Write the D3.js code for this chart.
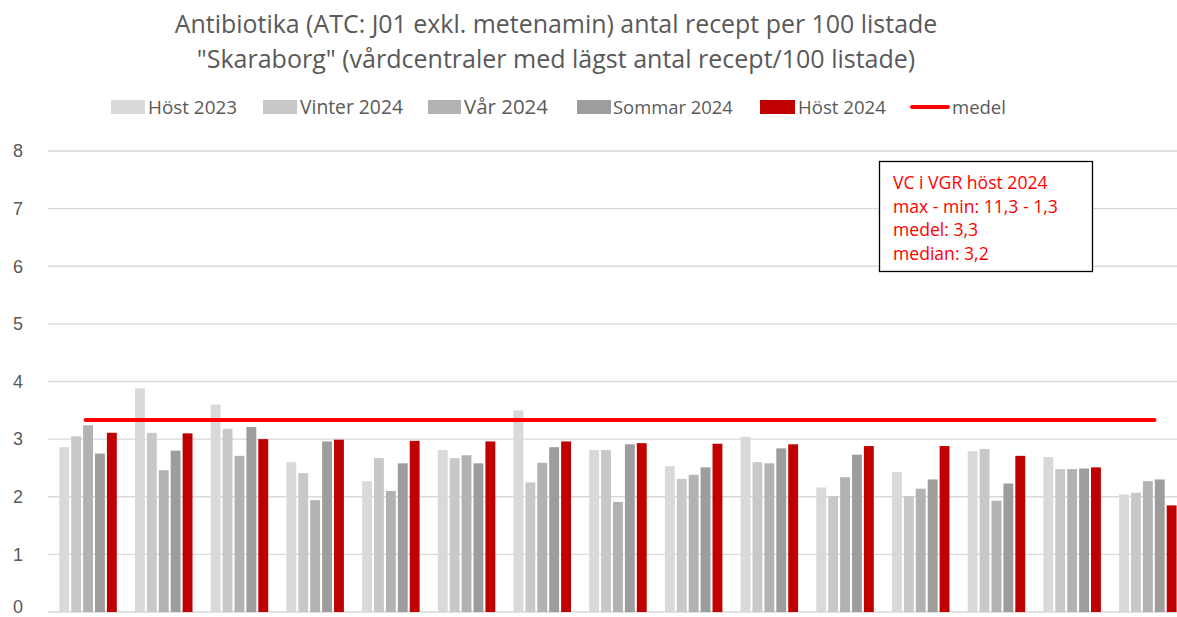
<!DOCTYPE html>
<html><head><meta charset="utf-8">
<script src="https://cdn.jsdelivr.net/npm/d3@7"></script>
<style>
body{margin:0;background:#fff;}
svg{display:block;font-family:"Open Sans","Liberation Sans",sans-serif;}
</style></head>
<body><svg id="c" width="1177" height="617"></svg>
<script>
const titleLines = ["Antibiotika (ATC: J01 exkl. metenamin) antal recept per 100 listade",
  "\"Skaraborg\" (vårdcentraler med lägst antal recept/100 listade)"];
const seriesNames = ["Höst 2023","Vinter 2024","Vår 2024","Sommar 2024","Höst 2024"];
const seriesColors = ["#d9d9d9","#c8c8c8","#b2b2b2","#9d9d9d","#c00000"];
const categories = ["VC1","VC2","VC3","VC4","VC5","VC6","VC7","VC8","VC9","VC10","VC11","VC12","VC13","VC14","VC15"];
const host2023   = [2.86,3.88,3.60,2.60,2.27,2.81,3.50,2.81,2.53,3.04,2.16,2.43,2.79,2.69,2.04];
const vinter2024 = [3.05,3.11,3.18,2.41,2.67,2.67,2.25,2.81,2.31,2.60,2.01,2.01,2.83,2.48,2.07];
const var2024    = [3.24,2.46,2.71,1.94,2.10,2.72,2.59,1.91,2.38,2.58,2.34,2.14,1.93,2.48,2.27];
const sommar2024 = [2.75,2.80,3.21,2.96,2.58,2.58,2.86,2.91,2.51,2.84,2.73,2.30,2.23,2.49,2.30];
const host2024   = [3.11,3.10,3.00,2.99,2.97,2.96,2.96,2.93,2.92,2.91,2.88,2.88,2.71,2.51,1.85];
const medel = 3.33;
const yTicks = [0,1,2,3,4,5,6,7,8];
const legendLabels = ["Höst 2023","Vinter 2024","Vår 2024","Sommar 2024","Höst 2024","medel"];
const boxLines = ["VC i VGR höst 2024","max - min: 11,3 - 1,3","medel: 3,3","median: 3,2"];

const series = [host2023, vinter2024, var2024, sommar2024, host2024];
const svg = d3.select("#c");
const textCol = "#595959";

const y = d3.scaleLinear().domain([0,8]).range([612,151]);
const x0 = d3.scaleBand().domain(categories).range([49.8, 49.8+15*75.7]).paddingInner(0).paddingOuter(0);
const x1 = d3.scaleBand().domain(d3.range(5)).range([9.5, 9.5+57.5]).paddingInner(0.17).paddingOuter(0);

// gridlines
svg.append("g").selectAll("line").data(yTicks).join("line")
  .attr("x1",48).attr("x2",1177).attr("y1",d=>y(d)).attr("y2",d=>y(d))
  .attr("stroke","#d9d9d9").attr("stroke-width",1.3);

// y axis
const yAxis = d3.axisLeft(y).tickValues(yTicks).tickSize(0).tickPadding(0).tickFormat(d3.format("d"));
const ya = svg.append("g").attr("transform","translate(24,0)").call(yAxis);
ya.select(".domain").remove();
ya.selectAll("text").attr("fill",textCol).style("font-size","18px").attr("text-anchor","middle").attr("x",-6)
  .attr("dy",d=>d===0?"0.0em":"0.32em");

// bars
const groups = svg.append("g").selectAll("g").data(categories).join("g")
  .attr("transform",d=>`translate(${x0(d)},0)`);
groups.selectAll("rect").data((d,i)=>series.map((s,k)=>({k,v:s[i]}))).join("rect")
  .attr("x",d=>x1(d.k)).attr("width",x1.bandwidth())
  .attr("y",d=>y(d.v)).attr("height",d=>y(0)-y(d.v))
  .attr("fill",d=>seriesColors[d.k]);

// medel line
svg.append("line")
  .attr("x1",x0(categories[0])+x0.bandwidth()/2-2).attr("x2",x0(categories[14])+x0.bandwidth()/2+7)
  .attr("y1",y(medel)).attr("y2",y(medel))
  .attr("stroke","#ff0000").attr("stroke-width",4).attr("stroke-linecap","round");

// title
function fitText(sel, target){
  const w = sel.node().getComputedTextLength();
  const fs = parseFloat(sel.style("font-size"));
  const nf = fs*target/w;
  sel.style("font-size",nf+"px");
  return nf;
}
const t1 = svg.append("text").attr("x",556).attr("y",33).attr("text-anchor","middle")
  .attr("fill",textCol).style("font-size","22px").text(titleLines[0]);
fitText(t1, 763);
const t2 = svg.append("text").attr("x",556).attr("y",68).attr("text-anchor","middle")
  .attr("fill",textCol).style("font-size","22px").text(titleLines[1]);
fitText(t2, 719);

// legend
const legSw = [[111,145],[263,297],[428,461],[577,611],[760,795],[912,948]];
const legTx = [[148,237],[300,403],[464,548],[613,733],[798,886],[952,1006]];
const lg = svg.append("g");
legendLabels.forEach((lab,i)=>{
  if(i<5){
    lg.append("rect").attr("x",legSw[i][0]).attr("y",100).attr("width",legSw[i][1]-legSw[i][0]).attr("height",14)
      .attr("fill",seriesColors[i]);
  } else {
    lg.append("line").attr("x1",legSw[i][0]).attr("x2",legSw[i][1]).attr("y1",107).attr("y2",107)
      .attr("stroke","#ff0000").attr("stroke-width",4).attr("stroke-linecap","round");
  }
  const t = lg.append("text").attr("x",legTx[i][0]).attr("y",113.5).attr("fill",textCol)
    .style("font-size","17px").text(lab);
  fitText(t, legTx[i][1]-legTx[i][0]);
});

// annotation box
svg.append("rect").attr("x",879.5).attr("y",161.5).attr("width",213).attr("height",110)
  .attr("fill","#fff").attr("stroke","#000").attr("stroke-width",1.3);
const bl = boxLines.map((l,i)=>svg.append("text").attr("x",893).attr("y",189+i*23.5).attr("fill","#ff0000")
    .style("font-size","14.5px").text(l));
const bfs = fitText(bl[1], 165);
bl.forEach(t=>t.style("font-size",bfs+"px"));
</script></body></html>
